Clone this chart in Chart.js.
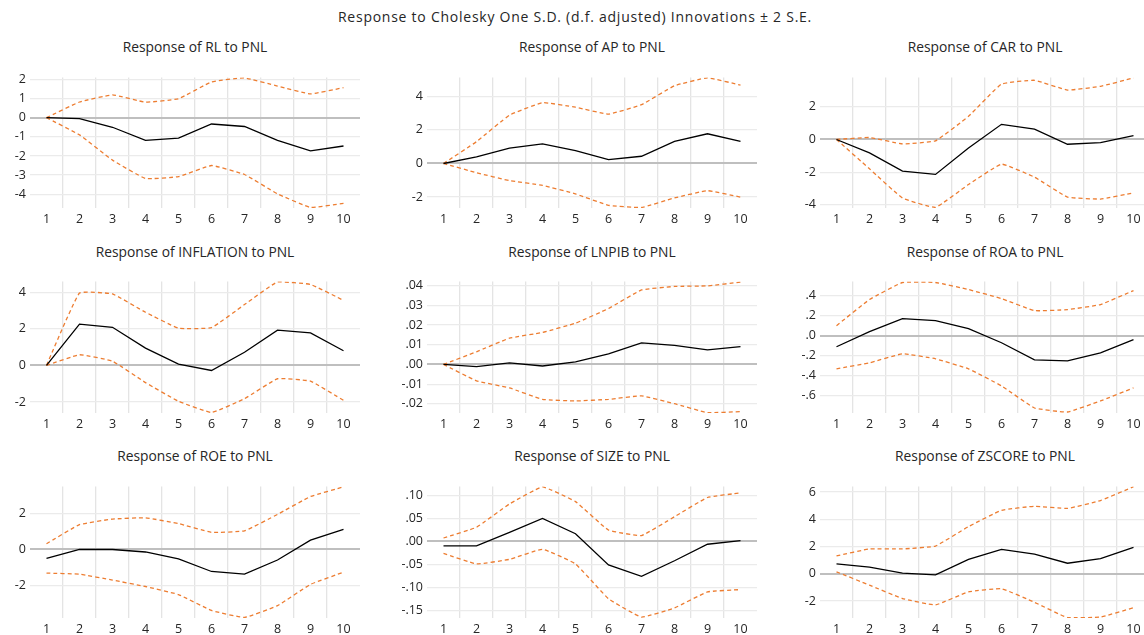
<!DOCTYPE html>
<html>
<head>
<meta charset="utf-8">
<title>Response to Cholesky One S.D.</title>
<script src="https://cdn.jsdelivr.net/npm/chart.js@4.4.1/dist/chart.umd.min.js"></script>
<style>
    html, body { margin: 0; padding: 0; background: #fff; }
    body { position: relative; width: 1144px; height: 635px; overflow: hidden; font-family: "Open Sans", sans-serif; color: #262626; }
    .titulo { position: absolute; white-space: nowrap; transform: translateX(-50%); font-size: 13.8px; line-height: 16px; }
    canvas { position: absolute; }
</style>
</head>
<body>
<div class="titulo" style="left:575px; top:9px; font-size:14px; letter-spacing:0.75px;">Response to Cholesky One S.D. (d.f. adjusted) Innovations ± 2 S.E.</div>

<script>
// ===================================================================
// DADOS
// ===================================================================
const periodos = ['1', '2', '3', '4', '5', '6', '7', '8', '9', '10'];

// RL
const rlResposta = [0, -0.05, -0.50, -1.19, -1.07, -0.33, -0.46, -1.19, -1.73, -1.48];
const rlSuperior = [0, 0.82, 1.19, 0.81, 0.99, 1.87, 2.08, 1.65, 1.24, 1.57];
const rlInferior = [0, -0.90, -2.22, -3.18, -3.08, -2.50, -2.97, -3.98, -4.69, -4.48];
const rlTicks = [-4, -3, -2, -1, 0, 1, 2];

// AP
const apResposta = [0, 0.40, 0.92, 1.17, 0.77, 0.23, 0.43, 1.32, 1.77, 1.32];
const apSuperior = [0, 1.30, 2.88, 3.62, 3.35, 2.94, 3.50, 4.63, 5.10, 4.67];
const apInferior = [0, -0.55, -1.02, -1.30, -1.81, -2.49, -2.62, -2.05, -1.62, -2.00];
const apTicks = [-2, 0, 2, 4];

// CAR
const carResposta = [0, -0.82, -1.94, -2.14, -0.52, 0.93, 0.64, -0.29, -0.19, 0.23];
const carSuperior = [0, 0.12, -0.27, -0.08, 1.42, 3.40, 3.63, 3.03, 3.26, 3.77];
const carInferior = [0, -1.80, -3.59, -4.16, -2.76, -1.51, -2.31, -3.53, -3.65, -3.28];
const carTicks = [-4, -2, 0, 2];

// INFLATION
const infResposta = [0, 2.25, 2.08, 0.94, 0.07, -0.28, 0.72, 1.92, 1.77, 0.80];
const infSuperior = [0, 3.95, 3.90, 2.90, 2.03, 2.06, 3.32, 4.56, 4.42, 3.55];
const infInferior = [0, 0.58, 0.23, -0.94, -1.96, -2.57, -1.82, -0.73, -0.86, -1.91];
const infTicks = [-2, 0, 2, 4];

// LNPIB
const pibResposta = [0, -0.0011, 0.0008, -0.0008, 0.0013, 0.0053, 0.0109, 0.0096, 0.0074, 0.0090];
const pibSuperior = [0, 0.0064, 0.0133, 0.0162, 0.0209, 0.0283, 0.0377, 0.0395, 0.0398, 0.0417];
const pibInferior = [0, -0.0083, -0.0119, -0.0177, -0.0185, -0.0177, -0.0159, -0.0199, -0.0244, -0.0239];
const pibTicks = [-0.02, -0.01, 0, 0.01, 0.02, 0.03, 0.04];

// ROA
const roaResposta = [-0.11, 0.04, 0.17, 0.15, 0.07, -0.07, -0.24, -0.25, -0.17, -0.04];
const roaSuperior = [0.10, 0.36, 0.53, 0.53, 0.46, 0.37, 0.25, 0.26, 0.31, 0.45];
const roaInferior = [-0.33, -0.27, -0.18, -0.23, -0.33, -0.50, -0.72, -0.76, -0.65, -0.52];
const roaTicks = [-0.6, -0.4, -0.2, 0, 0.2, 0.4];

// ROE
const roeResposta = [-0.50, 0, 0, -0.14, -0.52, -1.23, -1.38, -0.59, 0.52, 1.13];
const roeSuperior = [0.32, 1.39, 1.70, 1.77, 1.45, 0.96, 1.04, 1.96, 2.96, 3.50];
const roeInferior = [-1.32, -1.38, -1.71, -2.07, -2.52, -3.41, -3.80, -3.14, -1.95, -1.27];
const roeTicks = [-2, 0, 2];

// SIZE
const sizeResposta = [-0.0097, -0.0097, 0.020, 0.0505, 0.017, -0.0512, -0.076, -0.042, -0.006, 0.002];
const sizeSuperior = [0.0076, 0.031, 0.082, 0.119, 0.087, 0.025, 0.013, 0.054, 0.096, 0.106];
const sizeInferior = [-0.026, -0.049, -0.039, -0.017, -0.049, -0.125, -0.165, -0.145, -0.110, -0.105];
const sizeTicks = [-0.15, -0.10, -0.05, 0, 0.05, 0.10];

// ZSCORE
const zResposta = [0.72, 0.49, 0.05, -0.09, 1.05, 1.78, 1.43, 0.77, 1.10, 1.94];
const zSuperior = [1.31, 1.82, 1.82, 2.03, 3.46, 4.65, 4.95, 4.79, 5.37, 6.38];
const zInferior = [0.14, -0.84, -1.82, -2.29, -1.33, -1.10, -2.10, -3.22, -3.18, -2.50];
const zTicks = [-2, 0, 2, 4, 6];

const paineis = [
    { titulo: 'Response of RL to PNL', resposta: rlResposta, superior: rlSuperior, inferior: rlInferior, ticks: rlTicks, min: -4.72, max: 2.10, casas: 0 },
    { titulo: 'Response of AP to PNL', resposta: apResposta, superior: apSuperior, inferior: apInferior, ticks: apTicks, min: -2.65, max: 5.12, casas: 0 },
    { titulo: 'Response of CAR to PNL', resposta: carResposta, superior: carSuperior, inferior: carInferior, ticks: carTicks, min: -4.20, max: 3.80, casas: 0 },
    { titulo: 'Response of INFLATION to PNL', resposta: infResposta, superior: infSuperior, inferior: infInferior, ticks: infTicks, min: -2.60, max: 4.58, casas: 0 },
    { titulo: 'Response of LNPIB to PNL', resposta: pibResposta, superior: pibSuperior, inferior: pibInferior, ticks: pibTicks, min: -0.0246, max: 0.0420, casas: 2 },
    { titulo: 'Response of ROA to PNL', resposta: roaResposta, superior: roaSuperior, inferior: roaInferior, ticks: roaTicks, min: -0.77, max: 0.54, casas: 1 },
    { titulo: 'Response of ROE to PNL', resposta: roeResposta, superior: roeSuperior, inferior: roeInferior, ticks: roeTicks, min: -3.83, max: 3.52, casas: 0 },
    { titulo: 'Response of SIZE to PNL', resposta: sizeResposta, superior: sizeSuperior, inferior: sizeInferior, ticks: sizeTicks, min: -0.167, max: 0.120, casas: 2 },
    { titulo: 'Response of ZSCORE to PNL', resposta: zResposta, superior: zSuperior, inferior: zInferior, ticks: zTicks, min: -3.25, max: 6.40, casas: 0 }
];

// ===================================================================
// LAYOUT (posições das áreas de plotagem)
// ===================================================================
const colunasEsq = [30, 427, 820];   // borda esquerda da área de plotagem
const larguraEixoY = [30, 42, 42];
const larguraPlot = 330;
const linhasTopo = [72, 276, 481];
const linhasBase = [208, 413, 618];
const linhasTitulo = [47, 252, 456];
const folga = 6;
const alturaEixoX = 22;

const fonteTicks = { family: 'Open Sans', size: 12.5 };

// Formata os ticks como o EViews (.04, -.2, 0)
function formatarTick(valor, casas) {
    let s = Math.abs(valor).toFixed(casas);
    if (casas > 0) s = s.replace(/^0/, '');
    return (valor < -1e-12 ? '-' : '') + s;
}

paineis.forEach((p, i) => {
    const col = i % 3;
    const lin = Math.floor(i / 3);
    const yW = larguraEixoY[col];
    const esq = colunasEsq[col] - yW;
    const topo = linhasTopo[lin] - folga;
    const largura = yW + larguraPlot + folga;
    const altura = folga + (linhasBase[lin] - linhasTopo[lin]) + alturaEixoX;

    // título do painel
    const t = document.createElement('div');
    t.className = 'titulo';
    t.textContent = p.titulo;
    t.style.left = (colunasEsq[col] + larguraPlot / 2) + 'px';
    t.style.top = (linhasTitulo[lin] - 8) + 'px';
    document.body.appendChild(t);

    const canvas = document.createElement('canvas');
    canvas.width = largura;
    canvas.height = altura;
    canvas.style.left = esq + 'px';
    canvas.style.top = topo + 'px';
    document.body.appendChild(canvas);

    new Chart(canvas.getContext('2d'), {
        type: 'line',
        data: {
            labels: periodos,
            datasets: [
                { data: p.resposta, borderColor: '#000000', borderWidth: 1.3, pointRadius: 0, tension: 0, fill: false },
                { data: p.superior, borderColor: '#ED7D31', borderWidth: 1.3, borderDash: [4, 3], pointRadius: 0, tension: 0.1, fill: false },
                { data: p.inferior, borderColor: '#ED7D31', borderWidth: 1.3, borderDash: [4, 3], pointRadius: 0, tension: 0.1, fill: false }
            ]
        },
        options: {
            responsive: false,
            animation: false,
            events: [],
            layout: { padding: { top: folga, right: folga, left: 0, bottom: 0 } },
            plugins: { legend: { display: false }, tooltip: { enabled: false }, title: { display: false } },
            scales: {
                x: {
                    offset: true,
                    border: { display: false },
                    grid: {
                        offset: true,
                        drawTicks: false,
                        lineWidth: 1.3,
                        color: ctx => (ctx.index === 0 || ctx.type !== 'tick') ? 'rgba(0,0,0,0)' : '#e4e4e4'
                    },
                    ticks: { padding: 4, color: '#262626', font: fonteTicks, maxRotation: 0, autoSkip: false },
                    afterFit: s => { s.height = alturaEixoX; }
                },
                y: {
                    min: p.min,
                    max: p.max,
                    border: { display: false },
                    grid: {
                        drawTicks: false,
                        color: ctx => (ctx.tick && ctx.tick.value === 0) ? '#bfbfbf' : '#ebebeb',
                        lineWidth: ctx => (ctx.tick && ctx.tick.value === 0) ? 2 : 1.2
                    },
                    ticks: { padding: 4, color: '#262626', font: fonteTicks, callback: v => formatarTick(v, p.casas) },
                    afterBuildTicks: s => { s.ticks = p.ticks.map(v => ({ value: v })); },
                    afterFit: s => { s.width = yW; }
                }
            }
        }
    });
});
</script>
</body>
</html>
